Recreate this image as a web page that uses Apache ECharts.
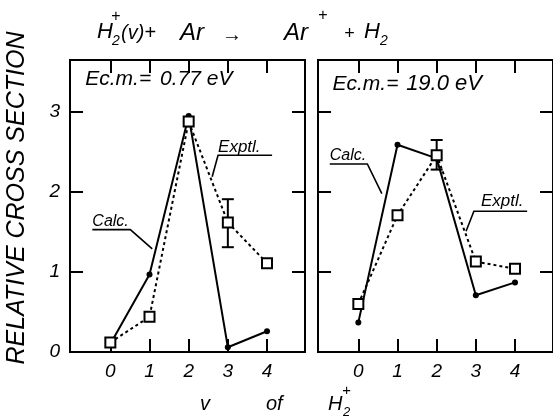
<!DOCTYPE html>
<html>
<head>
<meta charset="utf-8">
<script src="https://cdn.jsdelivr.net/npm/echarts@6/dist/echarts.min.js"></script>
<style>
  html, body { margin: 0; padding: 0; background: #fff; }
  #chart { width: 553px; height: 417px; }
</style>
</head>
<body>
<div id="chart"></div>
<script>
// Vibrational level v of H2+ (x axis)
const vLevels = [0, 1, 2, 3, 4];
const yTicks = [0, 1, 2, 3];

// E(c.m.) = 0.77 eV
const calcLow = [0.10, 0.97, 2.95, 0.06, 0.26];
const exptLow = [0.12, 0.44, 2.88, 1.62, 1.11];
const errLow = [[3, 1.31, 1.91]];          // [v, lower, upper]

// E(c.m.) = 19.0 eV
const calcHigh = [0.37, 2.59, 2.42, 0.71, 0.87];
const exptHigh = [0.60, 1.71, 2.46, 1.13, 1.04];
const errHigh = [[2, 2.28, 2.65]];

const FONT = '"Liberation Sans", "DejaVu Sans", sans-serif';
const INK = '#000';

const chart = echarts.init(document.getElementById('chart'), null, { renderer: 'canvas' });

function xAxisDef(gridIndex, position, showLabels) {
  return {
    type: 'value', gridIndex, position, min: -1.03, max: 4.97,
    axisLine: { show: false, onZero: false },
    splitLine: { show: false },
    axisTick: { show: true, inside: true, length: 13, customValues: vLevels,
                lineStyle: { color: INK, width: 2 } },
    axisLabel: { show: showLabels, customValues: vLevels, margin: 10,
                 color: INK, fontFamily: FONT, fontStyle: 'italic', fontSize: 19 }
  };
}
function yAxisDef(gridIndex, position, showLabels) {
  return {
    type: 'value', gridIndex, position, min: 0, max: 3.65,
    axisLine: { show: false, onZero: false },
    splitLine: { show: false },
    axisTick: { show: true, inside: true, length: 13, customValues: yTicks,
                lineStyle: { color: INK, width: 2 } },
    axisLabel: { show: showLabels, customValues: yTicks, margin: 10,
                 color: INK, fontFamily: FONT, fontStyle: 'italic', fontSize: 19 }
  };
}

function calcSeries(values, xi, yi) {
  return {
    type: 'line', xAxisIndex: xi, yAxisIndex: yi, z: 3,
    data: vLevels.map((v, i) => [v, values[i]]),
    symbol: 'circle', symbolSize: 6,
    itemStyle: { color: INK },
    lineStyle: { color: INK, width: 2 },
    animation: false
  };
}
function exptSeries(values, xi, yi) {
  return {
    type: 'line', xAxisIndex: xi, yAxisIndex: yi, z: 5,
    data: vLevels.map((v, i) => [v, values[i]]),
    symbol: 'rect', symbolSize: 10,
    itemStyle: { color: '#fff', borderColor: INK, borderWidth: 2 },
    lineStyle: { color: INK, width: 2, type: [3, 3] },
    animation: false
  };
}
function errSeries(rows, xi, yi) {
  return {
    type: 'custom', xAxisIndex: xi, yAxisIndex: yi, z: 4,
    data: rows,
    encode: { x: 0, y: [1, 2] },
    renderItem(params, api) {
      const x = api.value(0);
      const lo = api.coord([x, api.value(1)]);
      const hi = api.coord([x, api.value(2)]);
      const w = 6;
      const st = { stroke: INK, lineWidth: 2 };
      return {
        type: 'group',
        children: [
          { type: 'line', shape: { x1: lo[0], y1: lo[1], x2: hi[0], y2: hi[1] }, style: st },
          { type: 'line', shape: { x1: lo[0] - w, y1: lo[1], x2: lo[0] + w, y2: lo[1] }, style: st },
          { type: 'line', shape: { x1: hi[0] - w, y1: hi[1], x2: hi[0] + w, y2: hi[1] }, style: st }
        ]
      };
    },
    animation: false
  };
}

function txt(text, x, y, size, extra) {
  return Object.assign({
    type: 'text', x, y, silent: true,
    style: Object.assign({
      text, fill: INK, fontFamily: FONT, fontStyle: 'italic', fontSize: size,
      align: 'left', verticalAlign: 'middle'
    }, (extra && extra.style) || {})
  }, extra ? { rotation: extra.rotation || 0 } : {});
}

const gridBox = { show: true, borderColor: INK, borderWidth: 2, backgroundColor: 'transparent' };

chart.setOption({
  animation: false,
  backgroundColor: '#fff',
  grid: [
    Object.assign({ left: 70, top: 60, width: 235, height: 292 }, gridBox),
    Object.assign({ left: 318, top: 60, width: 238, height: 292 }, gridBox)
  ],
  xAxis: [
    xAxisDef(0, 'bottom', true), xAxisDef(0, 'top', false),
    xAxisDef(1, 'bottom', true), xAxisDef(1, 'top', false)
  ],
  yAxis: [
    yAxisDef(0, 'left', true), yAxisDef(0, 'right', false),
    yAxisDef(1, 'left', false), yAxisDef(1, 'right', false)
  ],
  series: [
    calcSeries(calcLow, 0, 0), exptSeries(exptLow, 0, 0), errSeries(errLow, 0, 0),
    calcSeries(calcHigh, 2, 2), exptSeries(exptHigh, 2, 2), errSeries(errHigh, 2, 2)
  ]
});

// Annotations placed in data coordinates of each panel
const notes = [
  { grid: 0, text: 'Ec.m.=', at: [-0.64, 3.41], size: 21 },
  { grid: 0, text: '0.77 eV', at: [1.27, 3.41], size: 21 },
  { grid: 0, text: 'Calc.', at: [-0.46, 1.63], size: 16,
    leader: [[-0.46, 1.53], [0.51, 1.53], [1.07, 1.29]] },
  { grid: 0, text: 'Exptl.', at: [2.75, 2.56], size: 17,
    leader: [[4.13, 2.46], [2.75, 2.46], [2.60, 2.19]] },
  { grid: 1, text: 'Ec.m.=', at: [-0.66, 3.35], size: 21 },
  { grid: 1, text: '19.0 eV', at: [1.22, 3.35], size: 22 },
  { grid: 1, text: 'Calc.', at: [-0.73, 2.45], size: 16,
    leader: [[-0.73, 2.35], [0.23, 2.35], [0.60, 1.98]] },
  { grid: 1, text: 'Exptl.', at: [3.13, 1.88], size: 17,
    leader: [[4.31, 1.76], [2.95, 1.76], [2.75, 1.51]] }
];

const graphics = [];
notes.forEach(n => {
  const p = chart.convertToPixel({ gridIndex: n.grid }, n.at);
  graphics.push(txt(n.text, p[0], p[1], n.size));
  if (n.leader) {
    graphics.push({
      type: 'polyline', silent: true,
      shape: { points: n.leader.map(q => chart.convertToPixel({ gridIndex: n.grid }, q)) },
      style: { stroke: INK, lineWidth: 1.6, fill: null }
    });
  }
});

// Reaction heading: H2+(v) + Ar -> Ar+ + H2
graphics.push(
  txt('H', 97, 32, 22),
  txt('2', 112, 41, 14),
  txt('+', 111, 17, 16),
  txt('(v)+', 121, 33, 20),
  txt('Ar', 180, 33, 24),
  txt('→', 222, 35, 20),
  txt('Ar', 284, 33, 24),
  txt('+', 318, 16, 16),
  txt('+', 344, 34, 18),
  txt('H', 364, 32, 22),
  txt('2', 380, 41, 14)
);

// Axis titles
graphics.push(
  txt('RELATIVE CROSS SECTION', 17, 198, 25,
      { rotation: Math.PI / 2, style: { align: 'center' } }),
  txt('v', 200, 404, 20),
  txt('of', 266, 404, 20),
  txt('H', 328, 404, 20),
  txt('2', 343, 412, 13),
  txt('+', 342, 391, 15)
);

chart.setOption({ graphic: graphics });
</script>
</body>
</html>
